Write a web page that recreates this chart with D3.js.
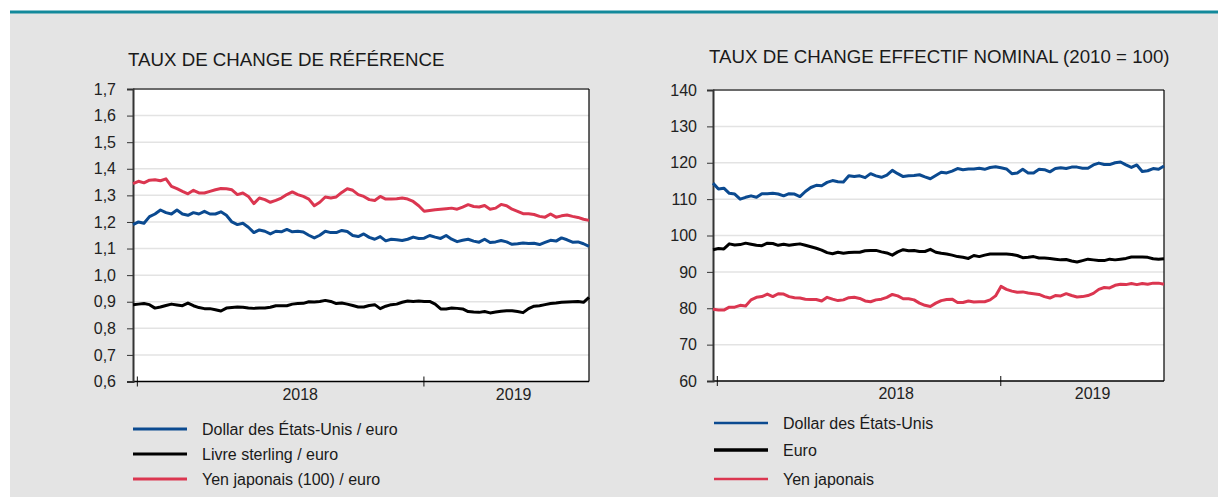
<!DOCTYPE html>
<html>
<head>
<meta charset="utf-8">
<script src="https://cdn.jsdelivr.net/npm/d3@7"></script>
<style>
  body { margin: 0; background: #fff; }
  svg { display: block; font-family: "Liberation Sans", Arial, sans-serif; }
</style>
</head>
<body>
<svg id="chart"></svg>
<script>
var width = 1218,
    height = 497;

// weekly observations, first one on 27 Dec 2017
var startDate = new Date(2017, 11, 27),
    stepDays = 7;

var yearStarts = [new Date(2018, 0, 1), new Date(2019, 0, 1)];
var yearLabels = ["2018", "2019"];

// left panel: taux de change de reference
var refTicks = [0.6, 0.7, 0.8, 0.9, 1.0, 1.1, 1.2, 1.3, 1.4, 1.5, 1.6, 1.7];
var refNames = ["Dollar des États-Unis / euro", "Livre sterling / euro", "Yen japonais (100) / euro"];

var usdRef = [1.19,1.20,1.195,1.22,1.23,1.245,1.235,1.23,1.245,1.23,
  1.225,1.235,1.23,1.24,1.23,1.23,1.238,1.225,1.20,1.19,
  1.195,1.18,1.16,1.17,1.165,1.155,1.165,1.163,1.172,1.163,
  1.165,1.162,1.15,1.14,1.15,1.165,1.16,1.16,1.168,1.164,
  1.149,1.145,1.155,1.142,1.135,1.145,1.129,1.135,1.133,1.13,
  1.135,1.143,1.138,1.139,1.149,1.143,1.138,1.149,1.135,1.126,
  1.131,1.135,1.128,1.124,1.135,1.123,1.125,1.13,1.125,1.116,
  1.118,1.121,1.119,1.12,1.115,1.123,1.131,1.128,1.14,1.133,
  1.124,1.125,1.118,1.108];

var gbpRef = [0.889,0.891,0.893,0.889,0.876,0.88,0.886,0.891,0.888,0.885,
  0.895,0.885,0.878,0.874,0.874,0.87,0.865,0.876,0.878,0.88,
  0.879,0.876,0.875,0.876,0.876,0.879,0.885,0.885,0.885,0.891,
  0.893,0.894,0.9,0.899,0.901,0.905,0.901,0.893,0.895,0.891,
  0.886,0.88,0.88,0.886,0.889,0.874,0.883,0.889,0.891,0.898,
  0.903,0.901,0.903,0.901,0.901,0.891,0.873,0.873,0.876,0.875,
  0.873,0.863,0.861,0.86,0.863,0.858,0.861,0.864,0.866,0.866,
  0.863,0.859,0.874,0.883,0.885,0.889,0.893,0.895,0.898,0.899,
  0.9,0.901,0.898,0.916];

var jpyRef = [1.344,1.353,1.347,1.357,1.359,1.355,1.362,1.334,1.325,1.315,
  1.306,1.319,1.309,1.309,1.315,1.321,1.326,1.325,1.321,1.303,
  1.309,1.296,1.269,1.29,1.284,1.274,1.281,1.29,1.303,1.313,
  1.303,1.296,1.286,1.261,1.274,1.294,1.29,1.294,1.311,1.325,
  1.319,1.303,1.296,1.284,1.281,1.296,1.286,1.286,1.287,1.29,
  1.286,1.277,1.261,1.24,1.243,1.246,1.248,1.25,1.252,1.248,
  1.256,1.265,1.258,1.256,1.262,1.248,1.252,1.266,1.261,1.248,
  1.24,1.231,1.231,1.228,1.221,1.218,1.23,1.218,1.223,1.226,
  1.221,1.217,1.21,1.206];

// right panel: taux de change effectif nominal (2010 = 100)
var effTicks = [60, 70, 80, 90, 100, 110, 120, 130, 140];
var effNames = ["Dollar des États-Unis", "Euro", "Yen japonais"];

var usdEff = [114.4,112.8,113.0,111.6,111.4,110.0,110.5,110.9,110.5,111.5,
  111.5,111.6,111.4,110.9,111.5,111.4,110.7,112.1,113.2,113.8,
  113.7,114.6,115.1,114.8,114.7,116.4,116.2,116.4,115.9,117.0,
  116.4,116.0,116.6,117.9,117.0,116.2,116.4,116.5,116.7,116.1,
  115.6,116.5,117.4,117.2,117.7,118.4,118.1,118.3,118.3,118.5,
  118.2,118.7,118.9,118.6,118.3,117.0,117.2,118.2,117.2,117.2,
  118.2,118.1,117.5,118.4,118.6,118.4,118.8,118.8,118.5,118.5,
  119.4,119.9,119.5,119.5,120.0,120.2,119.4,118.7,119.4,117.6,
  117.8,118.4,118.2,119.1];

var eurEff = [96.1,96.4,96.3,97.7,97.4,97.5,97.9,97.6,97.3,97.2,
  97.9,97.8,97.3,97.6,97.3,97.5,97.7,97.3,96.9,96.5,
  96.0,95.3,95.0,95.4,95.1,95.3,95.4,95.4,95.8,95.9,
  95.9,95.5,95.2,94.6,95.5,96.1,95.8,95.9,95.6,95.6,
  96.2,95.4,95.1,94.9,94.6,94.2,94.0,93.7,94.5,94.2,
  94.6,94.9,94.9,94.9,94.9,94.8,94.5,93.9,94.0,94.2,
  93.8,93.8,93.7,93.5,93.3,93.4,93.0,92.7,93.1,93.5,
  93.3,93.1,93.1,93.5,93.3,93.5,93.7,94.1,94.1,94.1,
  94.0,93.6,93.5,93.6];

var jpyEff = [79.7,79.5,79.5,80.3,80.3,80.8,80.6,82.3,83.0,83.2,
  83.9,83.2,84.0,83.9,83.2,82.9,82.8,82.5,82.4,82.4,
  82.0,83.0,82.5,82.1,82.3,82.9,83.0,82.7,82.0,81.8,
  82.3,82.5,83.0,83.8,83.4,82.6,82.6,82.3,81.4,80.8,
  80.5,81.4,82.1,82.4,82.5,81.6,81.6,82.0,81.7,81.8,
  81.8,82.3,83.4,86.0,85.2,84.7,84.4,84.5,84.2,84.0,
  83.8,83.2,82.8,83.5,83.4,84.0,83.5,83.1,83.2,83.5,
  84.1,85.2,85.7,85.6,86.3,86.6,86.5,86.8,86.5,86.8,
  86.6,86.9,86.9,86.6];

var dates = usdRef.map(function (d, i) { return d3.timeDay.offset(startDate, i * stepDays); });

var colorBlue = "#0b4a90",
    colorBlack = "#000000",
    colorRed = "#db3650";

var frFormat = d3.formatLocale({ decimal: ",", thousands: " ", grouping: [3], currency: ["", " €"] });

var svg = d3.select("#chart")
  .attr("width", width)
  .attr("height", height);

// page background + teal rule
svg.append("rect")
  .attr("x", 10).attr("y", 12)
  .attr("width", width - 10).attr("height", height - 12)
  .attr("fill", "#e4e4e4");
svg.append("line")
  .attr("x1", 10).attr("x2", width)
  .attr("y1", 12).attr("y2", 12)
  .attr("stroke", "#12899b")
  .attr("stroke-width", 3);

function drawPanel(p) {
  var x = d3.scaleTime()
    .domain([dates[0], dates[dates.length - 1]])
    .range([p.left, p.right]);
  var y = d3.scaleLinear()
    .domain(d3.extent(p.ticks))
    .range([p.bottom, p.top]);

  var g = svg.append("g");

  g.append("rect")
    .attr("x", p.left).attr("y", p.top)
    .attr("width", p.right - p.left).attr("height", p.bottom - p.top)
    .attr("fill", "#fff");

  // gridlines
  g.append("g")
    .selectAll("line")
      .data(p.ticks.slice(1, -1))
    .enter().append("line")
      .attr("x1", p.left).attr("x2", p.right)
      .attr("y1", function (d) { return y(d); })
      .attr("y2", function (d) { return y(d); })
      .attr("stroke", "#e3e3e3")
      .attr("stroke-width", 1.5);

  // frame top / right
  g.append("line")
    .attr("x1", p.left).attr("x2", p.right)
    .attr("y1", p.top).attr("y2", p.top)
    .attr("stroke", "#6a6a6a").attr("stroke-width", 2);
  g.append("line")
    .attr("x1", p.right).attr("x2", p.right)
    .attr("y1", p.top).attr("y2", p.bottom)
    .attr("stroke", "#000").attr("stroke-width", 1.2);

  // x axis
  var xAxis = g.append("g")
    .attr("transform", "translate(0," + (p.bottom - 5) + ")")
    .call(d3.axisBottom(x).tickValues(yearStarts).tickSize(10).tickFormat(""));
  xAxis.select(".domain").remove();
  xAxis.selectAll(".tick line").attr("stroke", "#333").attr("stroke-width", 1.2);
  g.append("line")
    .attr("x1", p.left).attr("x2", p.right)
    .attr("y1", p.bottom).attr("y2", p.bottom)
    .attr("stroke", "#000").attr("stroke-width", 1.5);

  g.append("g")
    .selectAll("text")
      .data(yearLabels)
    .enter().append("text")
      .attr("x", function (d, i) { return x(p.labelDates[i]); })
      .attr("y", p.bottom + 18)
      .attr("text-anchor", "middle")
      .attr("font-size", "16px")
      .attr("fill", "#222")
      .text(function (d) { return d; });

  // y axis
  var yAxis = g.append("g")
    .attr("transform", "translate(" + p.left + ",0)")
    .call(d3.axisLeft(y).tickValues(p.ticks).tickSize(6).tickPadding(p.pad).tickFormat(p.fmt));
  yAxis.attr("font-size", null).attr("font-family", null);
  yAxis.select(".domain").attr("stroke", "#333").attr("stroke-width", 2);
  yAxis.selectAll(".tick line").attr("stroke", "#333");
  yAxis.selectAll("text")
    .style("font-size", "16px")
    .attr("fill", "#222");

  // series
  var line = d3.line()
    .x(function (d, i) { return x(dates[i]); })
    .y(function (d) { return y(d); });

  p.series.forEach(function (s) {
    g.append("path")
      .datum(s.values)
      .attr("d", line)
      .attr("fill", "none")
      .attr("stroke", s.color)
      .attr("stroke-width", 3)
      .attr("stroke-linejoin", "round");
  });

  // title
  g.append("text")
    .attr("x", p.titleX).attr("y", p.titleY)
    .attr("font-size", "18.7px")
    .attr("fill", "#1a1a1a")
    .text(p.title);

  // legend
  var leg = g.append("g")
    .selectAll("g")
      .data(p.series)
    .enter().append("g")
      .attr("transform", function (d, i) { return "translate(0," + p.legendY[i] + ")"; });
  leg.append("line")
    .attr("x1", p.legendX).attr("x2", p.legendX + 54)
    .attr("stroke", function (d) { return d.color; })
    .attr("stroke-width", function (d) { return d.legendWidth; });
  leg.append("text")
    .attr("x", p.legendX + 69)
    .attr("y", 6)
    .attr("font-size", "16px")
    .attr("fill", "#1a1a1a")
    .text(function (d) { return d.name; });
}

drawPanel({
  left: 133, right: 589, top: 89, bottom: 381.5,
  ticks: refTicks,
  fmt: frFormat.format(".1f"),
  pad: 11,
  labelDates: [new Date(2018, 6, 28), new Date(2019, 3, 26)],
  title: "TAUX DE CHANGE DE RÉFÉRENCE",
  titleX: 128, titleY: 66,
  legendX: 133, legendY: [429, 454, 479],
  series: [
    { name: refNames[0], values: usdRef, color: colorBlue, legendWidth: 3 },
    { name: refNames[1], values: gbpRef, color: colorBlack, legendWidth: 3 },
    { name: refNames[2], values: jpyRef, color: colorRed, legendWidth: 3 }
  ]
});

drawPanel({
  left: 713, right: 1164, top: 90, bottom: 381,
  ticks: effTicks,
  fmt: frFormat.format("d"),
  pad: 10,
  labelDates: [new Date(2018, 7, 20), new Date(2019, 3, 30)],
  title: "TAUX DE CHANGE EFFECTIF NOMINAL (2010 = 100)",
  titleX: 709, titleY: 63,
  legendX: 714, legendY: [423, 450, 479],
  series: [
    { name: effNames[0], values: usdEff, color: colorBlue, legendWidth: 2.5 },
    { name: effNames[1], values: eurEff, color: colorBlack, legendWidth: 3.5 },
    { name: effNames[2], values: jpyEff, color: colorRed, legendWidth: 2.5 }
  ]
});
</script>
</body>
</html>
